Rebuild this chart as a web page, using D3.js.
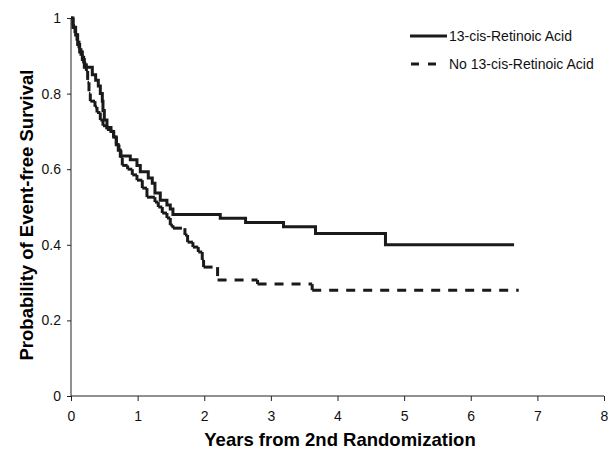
<!DOCTYPE html>
<html>
<head>
<meta charset="utf-8">
<script src="https://cdn.jsdelivr.net/npm/d3@7"></script>
<style>
  body { margin: 0; background: #fff; }
  svg { font-family: "Liberation Sans", Arial, sans-serif; }
  .axis path, .axis line { stroke: #222; }
  .axis text { font-size: 14px; fill: #111; }
</style>
</head>
<body>
<script>
// Kaplan-Meier step points: [years, survival] where survival changes
const retinoic = [
  [0, 1], [0.03, 0.975], [0.07, 0.955], [0.10, 0.93], [0.13, 0.91], [0.17, 0.89], [0.20, 0.87],
  [0.32, 0.85], [0.37, 0.835], [0.41, 0.82], [0.44, 0.80], [0.47, 0.78], [0.48, 0.755], [0.50, 0.73],
  [0.54, 0.71], [0.60, 0.70], [0.64, 0.685], [0.68, 0.665], [0.71, 0.65], [0.74, 0.635],
  [0.89, 0.625], [0.99, 0.61], [1.04, 0.593], [1.16, 0.577], [1.22, 0.563], [1.26, 0.537],
  [1.34, 0.518], [1.44, 0.505], [1.49, 0.495], [1.53, 0.48], [2.24, 0.47], [2.62, 0.459],
  [3.19, 0.448], [3.67, 0.43], [4.72, 0.40], [6.65, 0.40]
];
const noRetinoic = [
  [0, 1], [0.03, 0.98], [0.06, 0.96], [0.09, 0.94], [0.12, 0.92], [0.15, 0.90], [0.19, 0.88],
  [0.23, 0.86], [0.25, 0.83], [0.27, 0.80], [0.29, 0.78], [0.36, 0.765], [0.39, 0.75], [0.44, 0.73],
  [0.48, 0.715], [0.54, 0.705], [0.60, 0.70], [0.64, 0.685], [0.68, 0.665], [0.72, 0.65],
  [0.75, 0.63], [0.77, 0.61], [0.85, 0.60], [0.92, 0.585], [0.99, 0.571], [1.07, 0.55],
  [1.14, 0.526], [1.26, 0.513], [1.31, 0.50], [1.37, 0.484], [1.44, 0.471], [1.49, 0.452],
  [1.53, 0.444], [1.71, 0.426], [1.75, 0.407], [1.83, 0.394], [1.91, 0.381], [1.97, 0.36],
  [1.99, 0.341], [2.20, 0.307], [2.80, 0.296], [3.62, 0.28], [6.72, 0.28]
];
const xTicks = [0, 1, 2, 3, 4, 5, 6, 7, 8];
const yTicks = [0, 0.2, 0.4, 0.6, 0.8, 1];
const yTickLabels = ['0', '0.2', '0.4', '0.6', '0.8', '1'];
const seriesNames = ['13-cis-Retinoic Acid', 'No 13-cis-Retinoic Acid'];

const width = 610, height = 450,
  margin = { top: 18, right: 6, bottom: 54, left: 71 };

const x = d3.scaleLinear().domain([0, 8]).range([margin.left, width - margin.right]);
const y = d3.scaleLinear().domain([0, 1]).range([height - margin.bottom, margin.top]);

const svg = d3.select('body').append('svg')
  .attr('width', width)
  .attr('height', height);

svg.append('g')
  .attr('class', 'axis')
  .attr('transform', `translate(0,${y(0)})`)
  .call(d3.axisBottom(x).tickValues(xTicks).tickSize(5).tickPadding(10).tickFormat(d => d))
  .call(g => g.select('.domain').attr('d', `M${x(0)},0H${x(8)}`));

svg.append('g')
  .attr('class', 'axis')
  .attr('transform', `translate(${x(0)},0)`)
  .call(d3.axisLeft(y).tickValues(yTicks).tickSize(4).tickPadding(6)
    .tickFormat((d, i) => yTickLabels[i]))
  .call(g => g.select('.domain').attr('d', `M0,${y(0)}V${y(1)}`));

svg.append('text')
  .attr('x', 340)
  .attr('y', 446)
  .attr('text-anchor', 'middle')
  .style('font-size', '18.5px')
  .style('font-weight', 'bold')
  .text('Years from 2nd Randomization');

svg.append('text')
  .attr('transform', 'translate(33,215) rotate(-90)')
  .attr('text-anchor', 'middle')
  .style('font-size', '18.5px')
  .style('font-weight', 'bold')
  .text('Probability of Event-free Survival');

// solid curve
const line = d3.line()
  .x(d => x(d[0]))
  .y(d => y(d[1]))
  .curve(d3.curveStepAfter);

svg.append('path')
  .datum(retinoic)
  .attr('d', line)
  .attr('fill', 'none')
  .attr('stroke', '#1a1a1a')
  .attr('stroke-width', 3);

// dashed curve: pattern restarts on every step segment
const segs = [];
noRetinoic.forEach((d, i) => {
  const n = noRetinoic[i + 1];
  if (!n) return;
  segs.push([d[0], d[1], n[0], d[1]]);
  if (n[1] !== d[1]) segs.push([n[0], d[1], n[0], n[1]]);
});

svg.append('g').selectAll('line')
  .data(segs)
  .enter().append('line')
  .attr('x1', d => x(d[0]))
  .attr('y1', d => y(d[1]))
  .attr('x2', d => x(d[2]))
  .attr('y2', d => y(d[3]))
  .attr('stroke', '#1a1a1a')
  .attr('stroke-width', 3)
  .attr('stroke-dasharray', '9,8');

// legend
const legend = svg.append('g').attr('transform', 'translate(410,36)');
legend.append('line')
  .attr('x1', 0).attr('x2', 37).attr('y1', 0).attr('y2', 0)
  .attr('stroke', '#1a1a1a').attr('stroke-width', 3);
legend.append('line')
  .attr('x1', 1).attr('x2', 27).attr('y1', 28).attr('y2', 28)
  .attr('stroke', '#1a1a1a').attr('stroke-width', 3)
  .attr('stroke-dasharray', '8,9');
legend.selectAll('text')
  .data(seriesNames)
  .enter().append('text')
  .attr('x', 39)
  .attr('y', (d, i) => i * 28 + 5)
  .style('font-size', '14px')
  .attr('fill', '#111')
  .text(d => d);
</script>
</body>
</html>
